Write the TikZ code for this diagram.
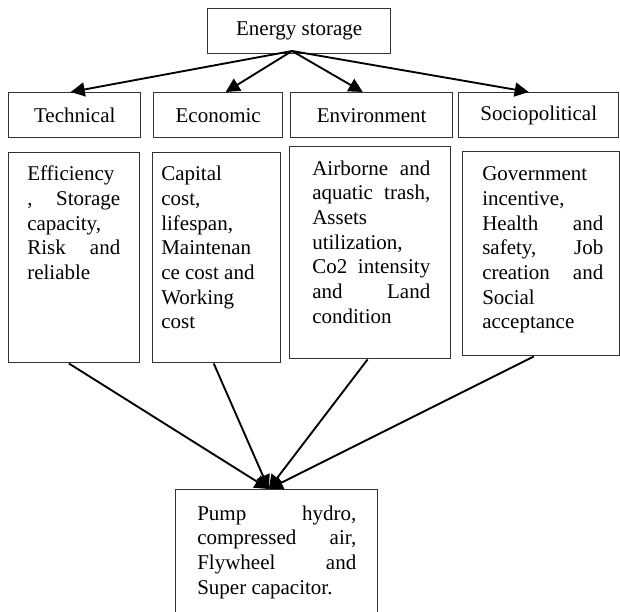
\documentclass[tikz,border=0pt]{standalone}
\usepackage{fontspec}
\setmainfont{Liberation Serif}
\usetikzlibrary{arrows.meta}
\newcommand{\fillline}[1]{\makebox[\linewidth][s]{#1}}
\begin{document}
\begin{tikzpicture}[x=0.75pt, y=-0.75pt, >={Triangle[length=10.5pt,width=10.5pt]},
	box/.style={draw=black!80, line width=1.1pt, anchor=north west, inner sep=0pt, minimum height=33.75pt},
	body/.style={draw=black!80, line width=1.1pt, anchor=north west, inner sep=0pt},
	words/.style={anchor=base west, inner sep=0pt, font=\fontsize{15.75}{18.5}\selectfont}]
	\useasboundingbox (0,0) rectangle (620,611);
	% top and headers
	\node[box, minimum width=137.25pt, font=\fontsize{15.75}{18.5}\selectfont] (store) at (207,8) {Energy storage\hspace{9pt}};
	\coordinate (hub) at (292,51);
	\node[box, minimum width=99pt, font=\fontsize{15.75}{18.5}\selectfont] (tech) at (8,92) {Technical\hspace{6pt}};
	\node[box, minimum width=96.75pt, font=\fontsize{15.75}{18.5}\selectfont] (econ) at (153,92) {Economic};
	\node[box, minimum width=121.5pt, font=\fontsize{15.75}{18.5}\selectfont] (env) at (290,92) {Environment};
	\node[box, minimum width=120pt, font=\fontsize{15.75}{18.5}\selectfont] (socio) at (458,92) {Sociopolitical};
	\foreach \n/\dx in {tech/-3pt, econ/5.6pt, env/-6.75pt, socio/-7.5pt}
		\draw[->, line width=1.4pt] (hub) -- ([xshift=\dx]\n.north);
	% criteria boxes
	\node[body, minimum width=98.25pt, minimum height=157.5pt] (techbody) at (8,152) {};
	\node[body, minimum width=96pt, minimum height=157.5pt] (econbody) at (152,152) {};
	\node[body, minimum width=120.75pt, minimum height=159pt] (envbody) at (289,146) {};
	\node[body, minimum width=117.75pt, minimum height=153pt] (sociobody) at (462,151) {};
	\node[words] (techtxt) at (27,180.7) {\parbox[t]{69.75pt}{\raggedright
		Efficiency\\ \fillline{, Storage}\\ capacity,\\ \fillline{Risk and}\\ reliable}};
	\node[words] (econtxt) at (161,180.7) {\parbox[t]{75pt}{\raggedright
		Capital\\ cost,\\ lifespan,\\ Maintenan\\ ce cost and\\ Working\\ cost}};
	\node[words] (envtxt) at (312,175) {\parbox[t]{88.5pt}{\raggedright
		\fillline{Airborne and}\\ \fillline{aquatic trash,}\\ Assets\\ utilization,\\ \fillline{Co2 intensity}\\ \fillline{and Land}\\ condition}};
	\node[words] (sociotxt) at (482,180.7) {\parbox[t]{90.75pt}{\raggedright
		Government\\ incentive,\\ \fillline{Health and}\\ \fillline{safety, Job}\\ \fillline{creation and}\\ Social\\ acceptance}};
	% result
	\node[body, minimum width=151.5pt, minimum height=93.75pt] (result) at (175,489) {};
	\node[words] (resulttxt) at (197,520) {\parbox[t]{119.25pt}{\raggedright
		\fillline{Pump hydro,}\\ \fillline{compressed air,}\\ \fillline{Flywheel and}\\ Super capacitor.}};
	\foreach \n/\dx in {techbody/-4pt, econbody/-2.25pt, envbody/-2pt, sociobody/-5.6pt}
		\draw[->, line width=1.4pt] ([xshift=\dx]\n.south) -- ([xshift=-6pt]result.north);
\end{tikzpicture}
\end{document}
